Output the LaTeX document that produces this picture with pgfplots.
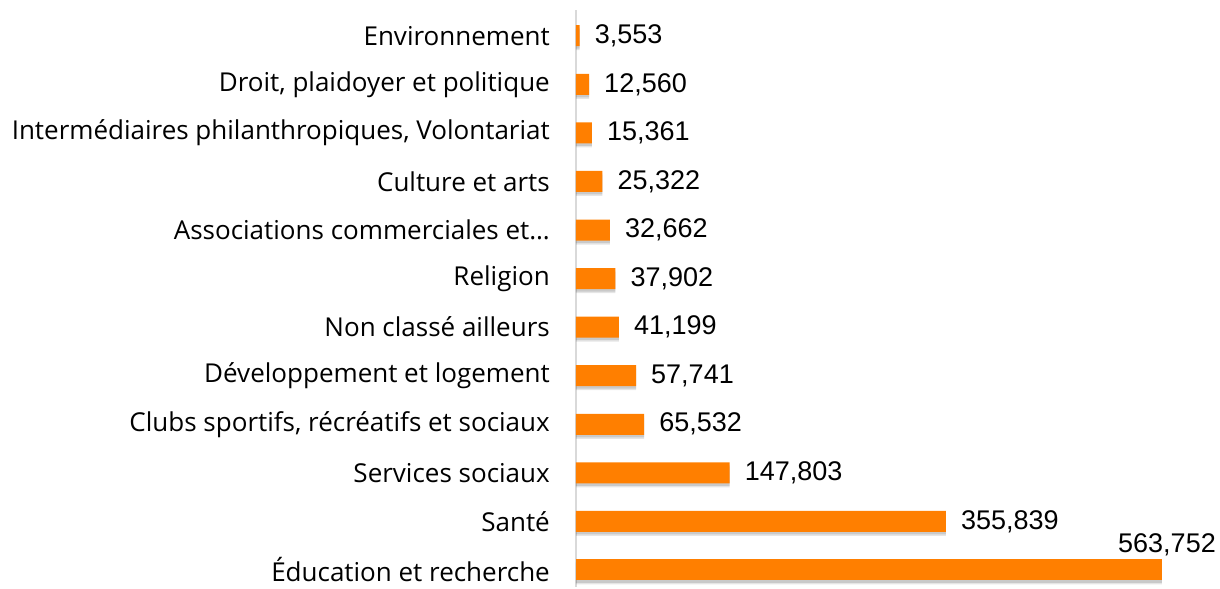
\documentclass[border=0pt]{standalone}
\usepackage{fontspec}
\setmainfont{Liberation Sans}
\newfontfamily\catfont{Open Sans}
\usepackage{pgfplots}
\pgfplotsset{compat=1.18}
\definecolor{barorange}{HTML}{FF7F00}
\pgfplotstableread{
y v
0 563752
1 355839
2 147803
3 65532
4 57741
5 41199
6 37902
7 32662
8 25322
9 15361
10 12560
11 3553
}\datatab
\begin{document}
\begin{tikzpicture}[font=\fontsize{27}{30}\selectfont]
\begin{axis}[
  scale only axis,
  width=644pt, height=577pt,
  xmin=0, xmax=619552,
  ymin=-0.35, ymax=11.53,
  axis x line=none,
  axis y line*=left,
  y axis line style={draw=black!15, line width=2.5pt, -},
  ytick={0,...,11},
  yticklabels={Éducation et recherche, Santé, Services sociaux, {Clubs sportifs, récréatifs et sociaux}, Développement et logement, Non classé ailleurs, Religion, Associations commerciales et…, Culture et arts, {Intermédiaires philanthropiques, Volontariat}, {Droit, plaidoyer et politique}, Environnement},
  major tick length=0pt,
  yticklabel style={anchor=east, inner sep=0pt, xshift=-26pt, font=\catfont\fontsize{26}{30}\selectfont},
  xbar, bar width=21pt,
  clip=false,
]
\addplot[forget plot, fill=black, draw=none, opacity=0.10, bar shift=-4pt] table[x=v, y=y] {\datatab};
\addplot[forget plot, fill=black, draw=none, opacity=0.12, bar shift=-2.5pt] table[x=v, y=y] {\datatab};
\addplot[fill=barorange, draw=none, bar shift=0pt,
  point meta=explicit symbolic,
  nodes near coords,
  every node near coord/.style={anchor=west, inner sep=0pt, xshift=15pt, black}]
  coordinates {(355839,1) [355,839] (147803,2) [147,803] (65532,3) [65,532] (57741,4) [57,741] (41199,5) [41,199] (37902,6) [37,902] (32662,7) [32,662] (25322,8) [25,322] (15361,9) [15,361] (12560,10) [12,560] (3553,11) [3,553]};
\addplot[fill=barorange, draw=none, bar shift=0pt,
  point meta=explicit symbolic,
  nodes near coords,
  every node near coord/.style={anchor=south, inner sep=0pt, xshift=5pt, yshift=14pt, black}]
  coordinates {(563752,0) [563,752]};
\end{axis}
\path (current axis.south west) ++(-576pt,0) rectangle ([yshift=10pt]current axis.north east);
\end{tikzpicture}
\end{document}
